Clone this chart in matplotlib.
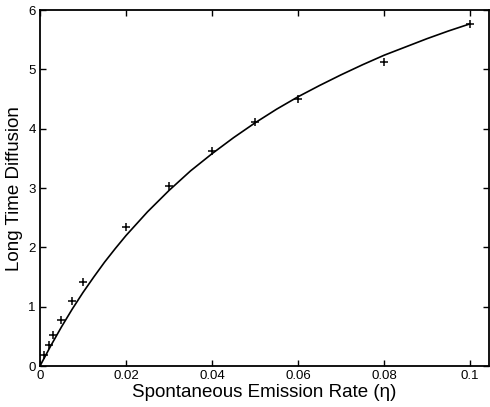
import numpy as np
import matplotlib.pyplot as plt

plt.rcParams['font.family'] = ['Liberation Sans', 'DejaVu Sans']

# simulated points
eta = [0.001, 0.002, 0.003, 0.005, 0.0075, 0.01, 0.02, 0.03, 0.04, 0.05, 0.06, 0.08, 0.1]
diff = [0.19, 0.36, 0.52, 0.77, 1.10, 1.42, 2.35, 3.03, 3.63, 4.11, 4.50, 5.13, 5.77]

# theory curve
eta_fit = [0, 0.0025, 0.005, 0.0075, 0.01, 0.0125, 0.015, 0.0175, 0.02, 0.025,
           0.03, 0.035, 0.04, 0.045, 0.05, 0.055, 0.06, 0.065, 0.07, 0.075,
           0.08, 0.085, 0.09, 0.095, 0.1]
diff_fit = [0, 0.34, 0.66, 0.96, 1.24, 1.50, 1.75, 1.98, 2.20, 2.60,
            2.96, 3.29, 3.58, 3.85, 4.10, 4.33, 4.54, 4.73, 4.91, 5.08,
            5.24, 5.38, 5.52, 5.65, 5.77]

fig = plt.figure(figsize=(4.9, 4.07), dpi=100)
ax = fig.add_axes([0.0816, 0.1007, 0.9164, 0.8743])

ax.plot(eta_fit, diff_fit, 'k-', lw=1.2)
ax.plot(eta, diff, 'k+', ms=6, mew=1.1)

ax.set_xlim(0, 0.1044)
ax.set_ylim(0, 6)
ax.set_xticks([0, 0.02, 0.04, 0.06, 0.08, 0.1])
ax.set_xticklabels(['0', '0.02', '0.04', '0.06', '0.08', '0.1'])
ax.set_yticks(range(7))
ax.tick_params(direction='in', top=True, right=True, length=4, width=1,
               labelsize=9.5, pad=3)
for s in ax.spines.values():
    s.set_linewidth(1.3)

ax.set_xlabel('Spontaneous Emission Rate (η)', fontsize=13.5, labelpad=1)
ax.set_ylabel('Long Time Diffusion', fontsize=13.5, labelpad=4)

fig.savefig('out.png', dpi=100)
